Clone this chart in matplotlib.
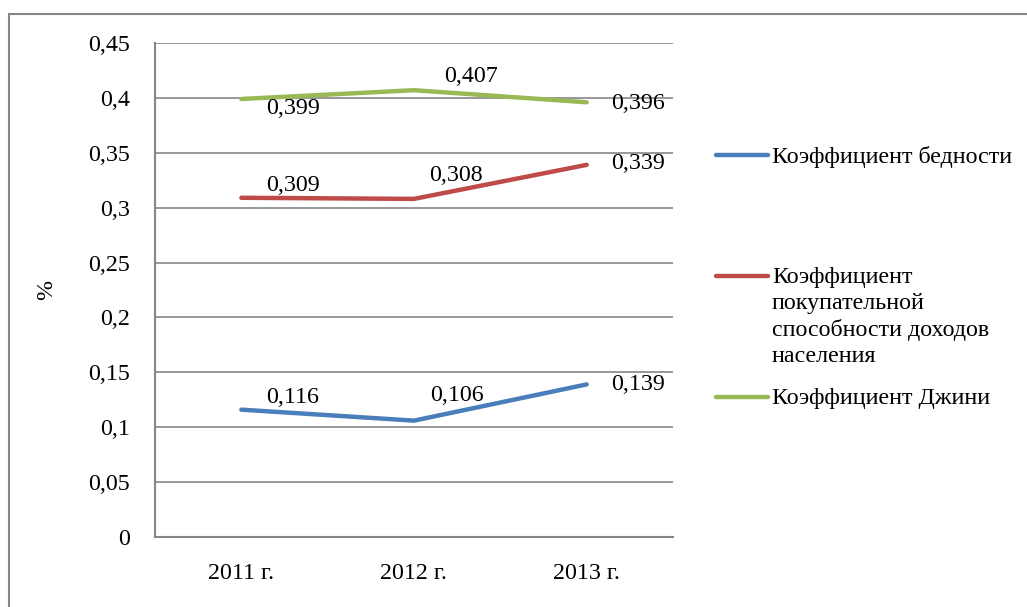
import matplotlib.pyplot as plt
from matplotlib.lines import Line2D
from matplotlib.patches import Rectangle
from matplotlib.ticker import FuncFormatter, MultipleLocator

plt.rcParams["font.family"] = ["Liberation Serif", "DejaVu Serif"]

years = ["2011 г.", "2012 г.", "2013 г."]
poverty = [0.116, 0.106, 0.139]
purchasing = [0.309, 0.308, 0.339]
gini = [0.399, 0.407, 0.396]

series_names = [
    "Коэффициент бедности",
    "Коэффициент\nпокупательной\nспособности доходов\nнаселения",
    "Коэффициент Джини",
]
colors = ["#4a7ebb", "#be4b48", "#98b954"]

# label offsets in points (dx, dy), hand placed like the original
offsets = {
    0: [(37, 9), (31, 18), (37, 0)],
    1: [(37, 9), (30, 17), (37, 1)],
    2: [(37, -7), (41, 10), (37, -1)],
}
FS = 17.3


def comma(v, _pos=None):
    return f"{v:g}".replace(".", ",")


def main():
    fig = plt.figure(figsize=(10.27, 6.07), dpi=100)
    fig.patches.append(Rectangle((8.5 / 1027, -0.05), 1.1, 1 - 13.5 / 607 + 0.05,
                                 transform=fig.transFigure, fill=False,
                                 edgecolor="#868686", linewidth=1.5))
    ax = fig.add_axes([155 / 1027, 1 - 537 / 607, 518 / 1027, 494 / 607])

    x = list(range(len(years)))
    for idx, vals in enumerate([poverty, purchasing, gini]):
        ax.plot(x, vals, color=colors[idx], linewidth=3.2, solid_capstyle="round", zorder=3)
        for i, v in enumerate(vals):
            ax.annotate(comma(v), (i, v), xytext=offsets[idx][i], textcoords="offset points",
                        ha="center", va="center", fontsize=FS)

    ax.set_xlim(-0.5, 2.5)
    ax.set_ylim(0, 0.45)
    ax.yaxis.set_major_locator(MultipleLocator(0.05))
    ax.yaxis.set_major_formatter(FuncFormatter(comma))
    ax.set_xticks(x)
    ax.set_xticklabels(years)
    ax.tick_params(axis="both", length=0, labelsize=FS)
    ax.tick_params(axis="y", pad=18)
    ax.tick_params(axis="x", pad=19)
    ax.grid(axis="y", color="#868686", linewidth=1.2)
    ax.set_axisbelow(True)
    for side in ["top", "right"]:
        ax.spines[side].set_visible(False)
    for side in ["left", "bottom"]:
        ax.spines[side].set_color("#868686")
        ax.spines[side].set_linewidth(1.5)
    ax.set_ylabel("%", fontsize=FS)
    ax.yaxis.set_label_coords((57 - 155) / 518, 0.5)

    # legend drawn by hand to mimic the spacing of the original
    legend_y = [155, 276, 397]
    for name, color, py in zip(series_names, colors, legend_y):
        yf = 1 - py / 607
        fig.lines.append(Line2D([716 / 1027, 768 / 1027], [yf, yf], transform=fig.transFigure,
                                color=color, linewidth=3.2, solid_capstyle="round"))
        fig.text(772 / 1027, yf + 9 / 607, name, fontsize=FS, ha="left", va="top", linespacing=1.3)

    fig.savefig("out.png", dpi=100)
    plt.close(fig)


if __name__ == "__main__":
    main()
